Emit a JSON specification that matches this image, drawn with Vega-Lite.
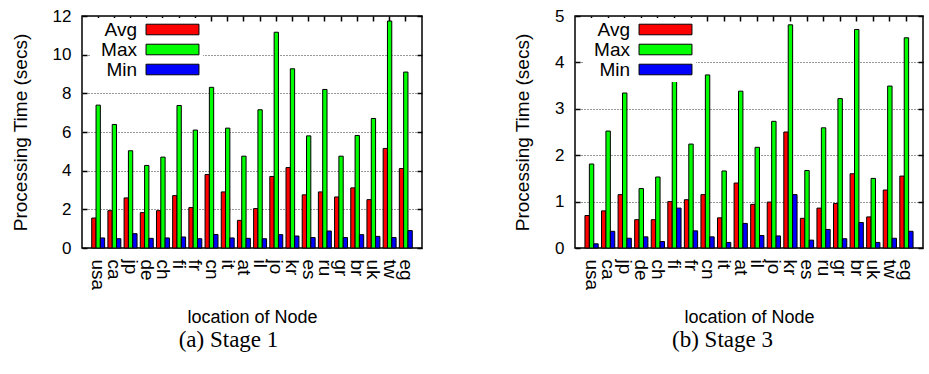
{
  "$schema": "https://vega.github.io/schema/vega-lite/v6.json",
  "padding": {"left": 10, "top": 6, "right": 0, "bottom": 0},
  "config": {
    "view": {"stroke": "black", "strokeWidth": 1.5},
    "font": "Liberation Sans",
    "axis": {"domain": false, "labelColor": "black", "titleColor": "black", "tickColor": "black", "tickWidth": 1.5, "titleFontWeight": "normal", "labelFont": "Liberation Sans", "titleFont": "Liberation Sans"},
    "legend": {"orient": "none", "legendX": 9, "legendY": 2, "title": null, "symbolType": "M-5,-1H5V1H-5Z", "symbolSize": 112, "symbolStrokeColor": "black", "symbolStrokeWidth": 1, "symbolOpacity": 1, "symbolOffset": 70, "labelOffset": -45, "labelAlign": "right", "labelFont": "Liberation Sans", "labelFontSize": 19, "labelColor": "black", "rowPadding": 0, "padding": 2, "fillColor": "white"}
  },
  "datasets": {
    "stage1": [
      {"node":"usa","stat":"Avg","value":1.55},{"node":"usa","stat":"Max","value":7.39},{"node":"usa","stat":"Min","value":0.52},
      {"node":"ca","stat":"Avg","value":1.93},{"node":"ca","stat":"Max","value":6.39},{"node":"ca","stat":"Min","value":0.48},
      {"node":"jp","stat":"Avg","value":2.59},{"node":"jp","stat":"Max","value":5.03},{"node":"jp","stat":"Min","value":0.74},
      {"node":"de","stat":"Avg","value":1.83},{"node":"de","stat":"Max","value":4.27},{"node":"de","stat":"Min","value":0.50},
      {"node":"ch","stat":"Avg","value":1.93},{"node":"ch","stat":"Max","value":4.70},{"node":"ch","stat":"Min","value":0.52},
      {"node":"fi","stat":"Avg","value":2.71},{"node":"fi","stat":"Max","value":7.37},{"node":"fi","stat":"Min","value":0.57},
      {"node":"fr","stat":"Avg","value":2.09},{"node":"fr","stat":"Max","value":6.10},{"node":"fr","stat":"Min","value":0.48},
      {"node":"cn","stat":"Avg","value":3.80},{"node":"cn","stat":"Max","value":8.31},{"node":"cn","stat":"Min","value":0.70},
      {"node":"it","stat":"Avg","value":2.90},{"node":"it","stat":"Max","value":6.20},{"node":"it","stat":"Min","value":0.52},
      {"node":"at","stat":"Avg","value":1.43},{"node":"at","stat":"Max","value":4.75},{"node":"at","stat":"Min","value":0.50},
      {"node":"il","stat":"Avg","value":2.04},{"node":"il","stat":"Max","value":7.15},{"node":"il","stat":"Min","value":0.48},
      {"node":"jo","stat":"Avg","value":3.70},{"node":"jo","stat":"Max","value":11.16},{"node":"jo","stat":"Min","value":0.69},
      {"node":"kr","stat":"Avg","value":4.16},{"node":"kr","stat":"Max","value":9.27},{"node":"kr","stat":"Min","value":0.62},
      {"node":"es","stat":"Avg","value":2.75},{"node":"es","stat":"Max","value":5.80},{"node":"es","stat":"Min","value":0.54},
      {"node":"ru","stat":"Avg","value":2.90},{"node":"ru","stat":"Max","value":8.20},{"node":"ru","stat":"Min","value":0.88},
      {"node":"gr","stat":"Avg","value":2.64},{"node":"gr","stat":"Max","value":4.75},{"node":"gr","stat":"Min","value":0.54},
      {"node":"br","stat":"Avg","value":3.11},{"node":"br","stat":"Max","value":5.82},{"node":"br","stat":"Min","value":0.69},
      {"node":"uk","stat":"Avg","value":2.50},{"node":"uk","stat":"Max","value":6.70},{"node":"uk","stat":"Min","value":0.60},
      {"node":"tw","stat":"Avg","value":5.15},{"node":"tw","stat":"Max","value":11.74},{"node":"tw","stat":"Min","value":0.54},
      {"node":"eg","stat":"Avg","value":4.11},{"node":"eg","stat":"Max","value":9.10},{"node":"eg","stat":"Min","value":0.90}
    ],
    "stage3": [
      {"node":"usa","stat":"Avg","value":0.70},{"node":"usa","stat":"Max","value":1.81},{"node":"usa","stat":"Min","value":0.09},
      {"node":"ca","stat":"Avg","value":0.80},{"node":"ca","stat":"Max","value":2.52},{"node":"ca","stat":"Min","value":0.36},
      {"node":"jp","stat":"Avg","value":1.15},{"node":"jp","stat":"Max","value":3.34},{"node":"jp","stat":"Min","value":0.21},
      {"node":"de","stat":"Avg","value":0.61},{"node":"de","stat":"Max","value":1.28},{"node":"de","stat":"Min","value":0.24},
      {"node":"ch","stat":"Avg","value":0.61},{"node":"ch","stat":"Max","value":1.53},{"node":"ch","stat":"Min","value":0.14},
      {"node":"fi","stat":"Avg","value":1.00},{"node":"fi","stat":"Max","value":3.72},{"node":"fi","stat":"Min","value":0.86},
      {"node":"fr","stat":"Avg","value":1.04},{"node":"fr","stat":"Max","value":2.24},{"node":"fr","stat":"Min","value":0.37},
      {"node":"cn","stat":"Avg","value":1.15},{"node":"cn","stat":"Max","value":3.73},{"node":"cn","stat":"Min","value":0.24},
      {"node":"it","stat":"Avg","value":0.65},{"node":"it","stat":"Max","value":1.66},{"node":"it","stat":"Min","value":0.12},
      {"node":"at","stat":"Avg","value":1.40},{"node":"at","stat":"Max","value":3.38},{"node":"at","stat":"Min","value":0.53},
      {"node":"il","stat":"Avg","value":0.94},{"node":"il","stat":"Max","value":2.17},{"node":"il","stat":"Min","value":0.27},
      {"node":"jo","stat":"Avg","value":0.99},{"node":"jo","stat":"Max","value":2.73},{"node":"jo","stat":"Min","value":0.26},
      {"node":"kr","stat":"Avg","value":2.50},{"node":"kr","stat":"Max","value":4.81},{"node":"kr","stat":"Min","value":1.15},
      {"node":"es","stat":"Avg","value":0.64},{"node":"es","stat":"Max","value":1.67},{"node":"es","stat":"Min","value":0.17},
      {"node":"ru","stat":"Avg","value":0.86},{"node":"ru","stat":"Max","value":2.59},{"node":"ru","stat":"Min","value":0.40},
      {"node":"gr","stat":"Avg","value":0.96},{"node":"gr","stat":"Max","value":3.22},{"node":"gr","stat":"Min","value":0.20},
      {"node":"br","stat":"Avg","value":1.60},{"node":"br","stat":"Max","value":4.71},{"node":"br","stat":"Min","value":0.55},
      {"node":"uk","stat":"Avg","value":0.67},{"node":"uk","stat":"Max","value":1.50},{"node":"uk","stat":"Min","value":0.12},
      {"node":"tw","stat":"Avg","value":1.25},{"node":"tw","stat":"Max","value":3.49},{"node":"tw","stat":"Min","value":0.21},
      {"node":"eg","stat":"Avg","value":1.55},{"node":"eg","stat":"Max","value":4.53},{"node":"eg","stat":"Min","value":0.36}
    ]
  },
  "spacing": 88,
  "resolve": {"scale": {"x": "independent", "y": "independent", "color": "independent", "xOffset": "independent"}, "legend": {"color": "independent"}, "axis": {"x": "independent", "y": "independent"}},
  "hconcat": [
    {
      "width": 340, "height": 232,
      "data": {"name": "stage1"},
      "title": {"text": "(a) Stage 1", "orient": "bottom", "frame": "group", "anchor": "middle", "dx": -23.5, "offset": 2, "font": "Liberation Serif", "fontSize": 23, "fontWeight": "normal", "color": "black"},
      "layer": [
        {
          "mark": {"type": "bar", "stroke": "black", "strokeWidth": 1},
          "encoding": {
            "x": {"field": "node", "type": "nominal", "sort": null, "scale": {"paddingInner": 0.2, "paddingOuter": 0.6},
                  "axis": {"orient": "bottom", "labelAngle": 90, "labelPadding": 11, "labelFontSize": 19, "ticks": false, "title": "location of Node", "titleFontSize": 18, "titlePadding": 19}},
            "xOffset": {"field": "stat", "type": "nominal", "scale": {"paddingInner": 0, "paddingOuter": 0}},
            "y": {"field": "value", "type": "quantitative", "scale": {"domain": [0, 12], "nice": false},
                  "axis": {"values": [0, 2, 4, 6, 8, 10, 12], "offset": -5, "tickSize": 5, "labelPadding": 11, "labelFontSize": 17, "title": "Processing Time (secs)", "titleFontSize": 19, "titlePadding": 22, "grid": true, "gridDash": [1, 2], "gridColor": "#333", "gridOpacity": 1}},
            "color": {"field": "stat", "type": "nominal", "scale": {"domain": ["Avg", "Max", "Min"], "range": ["#ff0000", "#00ff00", "#0000ff"]}}
          }
        },
        {
          "mark": {"type": "bar", "opacity": 0},
          "encoding": {
            "x": {"field": "node", "type": "nominal", "sort": null, "axis": {"orient": "top", "offset": -5, "labels": false, "ticks": true, "tickSize": 5, "title": null, "grid": false}},
            "xOffset": {"field": "stat", "type": "nominal"},
            "y": {"field": "value", "type": "quantitative", "axis": {"orient": "right", "offset": -5, "values": [0, 2, 4, 6, 8, 10, 12], "labels": false, "tickSize": 5, "title": null, "grid": false}}
          }
        }
      ],
      "resolve": {"axis": {"x": "independent", "y": "independent"}}
    },
    {
      "width": 348, "height": 232,
      "data": {"name": "stage3"},
      "title": {"text": "(b) Stage 3", "orient": "bottom", "frame": "group", "anchor": "middle", "dx": -26.5, "offset": 2, "font": "Liberation Serif", "fontSize": 23, "fontWeight": "normal", "color": "black"},
      "layer": [
        {
          "mark": {"type": "bar", "stroke": "black", "strokeWidth": 1},
          "encoding": {
            "x": {"field": "node", "type": "nominal", "sort": null, "scale": {"paddingInner": 0.2, "paddingOuter": 0.6},
                  "axis": {"orient": "bottom", "labelAngle": 90, "labelPadding": 11, "labelFontSize": 19, "ticks": false, "title": "location of Node", "titleFontSize": 18, "titlePadding": 19}},
            "xOffset": {"field": "stat", "type": "nominal", "scale": {"paddingInner": 0, "paddingOuter": 0}},
            "y": {"field": "value", "type": "quantitative", "scale": {"domain": [0, 5], "nice": false},
                  "axis": {"values": [0, 1, 2, 3, 4, 5], "offset": -5, "tickSize": 5, "labelPadding": 11, "labelFontSize": 17, "title": "Processing Time (secs)", "titleFontSize": 19, "titlePadding": 22, "grid": true, "gridDash": [1, 2], "gridColor": "#333", "gridOpacity": 1}},
            "color": {"field": "stat", "type": "nominal", "scale": {"domain": ["Avg", "Max", "Min"], "range": ["#ff0000", "#00ff00", "#0000ff"]}}
          }
        },
        {
          "mark": {"type": "bar", "opacity": 0},
          "encoding": {
            "x": {"field": "node", "type": "nominal", "sort": null, "axis": {"orient": "top", "offset": -5, "labels": false, "ticks": true, "tickSize": 5, "title": null, "grid": false}},
            "xOffset": {"field": "stat", "type": "nominal"},
            "y": {"field": "value", "type": "quantitative", "axis": {"orient": "right", "offset": -5, "values": [0, 1, 2, 3, 4, 5], "labels": false, "tickSize": 5, "title": null, "grid": false}}
          }
        }
      ],
      "resolve": {"axis": {"x": "independent", "y": "independent"}}
    }
  ]
}
